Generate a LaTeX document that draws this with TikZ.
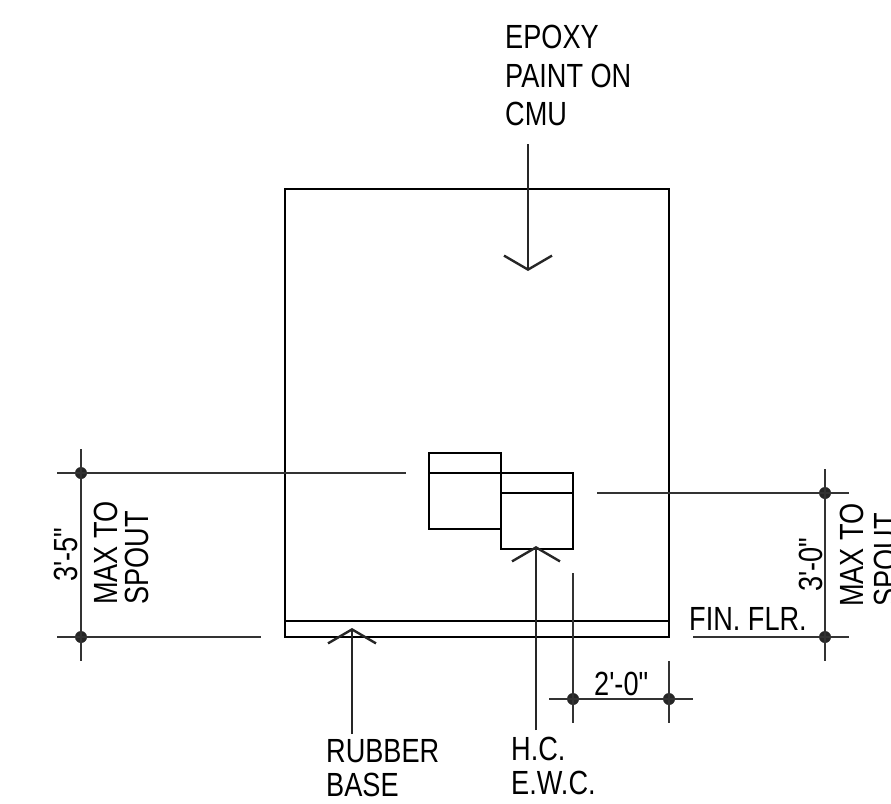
\documentclass[tikz,border=0pt]{standalone}
\usepackage{fontspec}
\newfontfamily\dwgfont[FakeStretch=0.81]{Liberation Sans}
\usetikzlibrary{arrows.meta}
\tikzset{
  x=1pt,y=-1pt,
  thin line/.style={line width=1.2pt,draw=black!80},
  part/.style={draw=black,line width=1.15pt,outer sep=0pt,minimum width=72pt,inner sep=0pt,anchor=north west},
  wall/.style={draw=black,line width=2.4pt,outer sep=0pt,minimum width=384pt,minimum height=448pt,inner sep=0pt,anchor=north west},
  dot/.style={circle,fill=black!85,inner sep=0pt,minimum size=12pt},
  label/.style={inner sep=0pt,anchor=base west,font=\dwgfont\fontsize{33.5}{39}\selectfont},
  vlabel/.style={label,rotate=90},
  leader/.style={line width=1.2pt,draw=black!85,-{Straight Barb[length=14pt,width=48pt,line width=2.4pt]}}
}
\begin{document}
\begin{tikzpicture}
\useasboundingbox (0,0) rectangle (891,803);
% wall and units
\node[wall] (wall) at (285,189) {};
\node[part,minimum height=76pt] (unitA) at (429,453) {};
\node[part,minimum height=76pt] (unitB) at (501,473) {};
\draw[line width=1.15pt] (wall.west |- 0,621) -- (wall.east |- 0,621);
\draw[line width=1.15pt] (unitA.west |- 0,473) -- (unitA.east |- 0,473);
\draw[line width=1.15pt] (unitB.west |- 0,493) -- (unitB.east |- 0,493);
% dimension dots
\node[dot] (dL1) at (81,473) {};
\node[dot] (dL2) at (81,637) {};
\node[dot] (dR1) at (825,493) {};
\node[dot] (dR2) at (825,637) {};
\node[dot] (dB1) at (573,699) {};
\node[dot] (dB2) at (669,699) {};
% free ends
\coordinate (a1) at (81,449); \coordinate (a2) at (81,661);
\coordinate (a3) at (57,473); \coordinate (a4) at (406,473);
\coordinate (a5) at (57,637); \coordinate (a6) at (261,637);
\coordinate (b1) at (825,469); \coordinate (b2) at (825,661);
\coordinate (b3) at (597,493); \coordinate (b4) at (849,493);
\coordinate (b5) at (693,637); \coordinate (b6) at (849,637);
\coordinate (c1) at (549,699); \coordinate (c2) at (693,699);
\coordinate (c3) at (573,573); \coordinate (c4) at (573,723);
\coordinate (c5) at (669,661); \coordinate (c6) at (669,723);
\draw[thin line] (a1) -- (a2);
\draw[thin line] (a3) -- (a4);
\draw[thin line] (a5) -- (a6);
\draw[thin line] (b1) -- (b2);
\draw[thin line] (b3) -- (b4);
\draw[thin line] (b5) -- (b6);
\draw[thin line] (c1) -- (c2);
\draw[thin line] (c3) -- (c4);
\draw[thin line] (c5) -- (c6);
% leaders
\coordinate (t1) at (528,144); \coordinate (t2) at (528,271);
\coordinate (h1) at (536,730); \coordinate (h2) at (536,546);
\coordinate (r1) at (352,734); \coordinate (r2) at (352,628);
\draw[leader] (t1) -- (t2);
\draw[leader] (h1) -- (h2);
\draw[leader] (r1) -- (r2);
% text
\node[label] (l1) at (505,48) {EPOXY};
\node[label] (l2) at (505,87) {PAINT ON};
\node[label] (l3) at (505,125) {CMU};
\node[label] (l4) at (326,762) {RUBBER};
\node[label] (l5) at (326,796) {BASE};
\node[label] (l6) at (511,760) {H.C.};
\node[label] (l7) at (511,794) {E.W.C.};
\node[label] (l8) at (689,630) {FIN. FLR.};
\node[label] (l9) at (594,695) {2'-0"};
\node[vlabel] (v1) at (77,582) {3'-5"};
\node[vlabel] (v2) at (117,605) {MAX TO};
\node[vlabel] (v3) at (148,605) {SPOUT};
\node[vlabel] (v4) at (822,592) {3'-0"};
\node[vlabel] (v5) at (863,607) {MAX TO};
\node[vlabel] (v6) at (897,607) {SPOUT};
\end{tikzpicture}
\end{document}
